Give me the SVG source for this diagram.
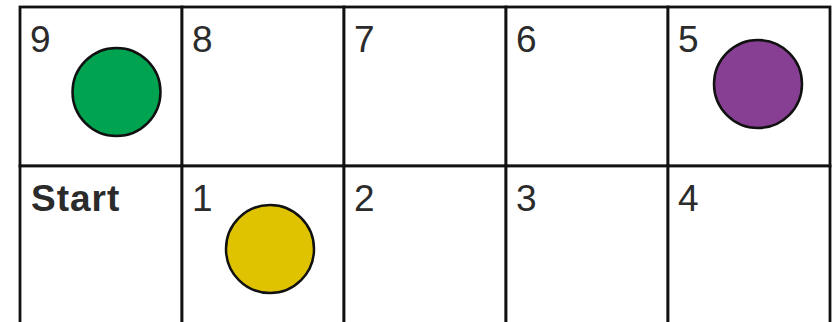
<svg xmlns="http://www.w3.org/2000/svg" width="832" height="322" viewBox="0 0 832 322">
<style>
.cell{fill:#fff;stroke:#111;stroke-width:2.8}
.lbl{font-family:"Liberation Sans",Arial,sans-serif;font-size:37px;fill:#2b2b2b}
.bold{font-weight:bold;letter-spacing:1px}
.tok{stroke:#111;stroke-width:2.5}
</style>
<rect width="832" height="322" fill="#fff"/>
<g id="cell-9"><rect class="cell" x="20" y="7" width="162" height="159"/><text class="lbl" x="30" y="52">9</text></g>
<g id="cell-8"><rect class="cell" x="182" y="7" width="162" height="159"/><text class="lbl" x="192" y="52">8</text></g>
<g id="cell-7"><rect class="cell" x="344" y="7" width="162" height="159"/><text class="lbl" x="354" y="52">7</text></g>
<g id="cell-6"><rect class="cell" x="506" y="7" width="162" height="159"/><text class="lbl" x="516" y="52">6</text></g>
<g id="cell-5"><rect class="cell" x="668" y="7" width="162" height="159"/><text class="lbl" x="678" y="52">5</text></g>
<g id="cell-start"><rect class="cell" x="20" y="166" width="162" height="170"/><text class="lbl bold" x="31" y="211">Start</text></g>
<g id="cell-1"><rect class="cell" x="182" y="166" width="162" height="170"/><text class="lbl" x="192" y="211">1</text></g>
<g id="cell-2"><rect class="cell" x="344" y="166" width="162" height="170"/><text class="lbl" x="354" y="211">2</text></g>
<g id="cell-3"><rect class="cell" x="506" y="166" width="162" height="170"/><text class="lbl" x="516" y="211">3</text></g>
<g id="cell-4"><rect class="cell" x="668" y="166" width="162" height="170"/><text class="lbl" x="678" y="211">4</text></g>
<g id="token-green"><circle class="tok" cx="116.5" cy="92" r="44" fill="#00a34f"/></g>
<g id="token-purple"><circle class="tok" cx="758" cy="84" r="44" fill="#873f94"/></g>
<g id="token-yellow"><circle class="tok" cx="270" cy="249" r="44" fill="#e0c300"/></g>
<g id="connectors"></g>
</svg>
